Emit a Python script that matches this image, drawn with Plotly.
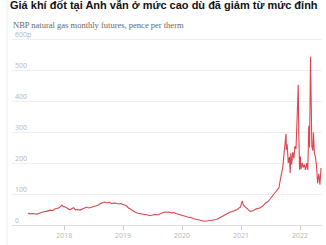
import plotly.graph_objects as go

dates = [
    "2017-05-22","2017-06-05","2017-06-19","2017-07-03","2017-07-17","2017-07-31","2017-08-14","2017-08-28",
    "2017-09-11","2017-09-25","2017-10-09","2017-10-23","2017-11-06","2017-11-20","2017-12-04","2017-12-18",
    "2017-12-25","2018-01-08","2018-01-22","2018-02-05","2018-02-19","2018-03-01","2018-03-12","2018-03-26",
    "2018-04-09","2018-04-23","2018-05-07","2018-05-21","2018-06-04","2018-06-18","2018-07-02","2018-07-16",
    "2018-07-30","2018-08-13","2018-08-27","2018-09-10","2018-09-24","2018-10-08","2018-10-22","2018-11-05",
    "2018-11-19","2018-12-03","2018-12-17","2019-01-07","2019-01-21","2019-02-04","2019-02-18","2019-03-04",
    "2019-03-18","2019-04-01","2019-04-15","2019-05-06","2019-05-20","2019-06-03","2019-06-17","2019-07-01",
    "2019-07-15","2019-08-05","2019-08-19","2019-09-02","2019-09-16","2019-09-30","2019-10-14","2019-10-28",
    "2019-11-11","2019-11-25","2019-12-16","2020-01-06","2020-01-20","2020-02-10","2020-02-24","2020-03-16",
    "2020-04-06","2020-04-27","2020-05-18","2020-06-01","2020-06-22","2020-07-13","2020-08-03","2020-08-24",
    "2020-09-14","2020-10-05","2020-10-26","2020-11-16","2020-12-07","2020-12-28","2021-01-08","2021-01-15",
    "2021-01-29","2021-02-12","2021-02-26","2021-03-15","2021-04-05","2021-04-26","2021-05-17","2021-06-01",
    "2021-06-15","2021-06-28","2021-07-12","2021-07-26","2021-08-09","2021-08-23","2021-09-01","2021-09-10",
    "2021-09-17","2021-09-24","2021-10-01","2021-10-06","2021-10-08","2021-10-13","2021-10-20","2021-10-27",
    "2021-11-01","2021-11-05","2021-11-10","2021-11-17","2021-11-24","2021-11-30","2021-12-07","2021-12-14",
    "2021-12-21","2021-12-24","2021-12-29","2022-01-03","2022-01-07","2022-01-14","2022-01-21","2022-01-28",
    "2022-02-04","2022-02-11","2022-02-18","2022-02-24","2022-03-01","2022-03-07","2022-03-10","2022-03-15",
    "2022-03-21","2022-03-25","2022-03-31","2022-04-06","2022-04-13","2022-04-20","2022-04-27","2022-05-04",
    "2022-05-11",
]
prices = [
    38,36,37,36,35,38,41,43,
    44,47,48,47,52,53,57,64,
    60,58,52,49,53,56,49,50,
    48,52,55,58,55,57,58,60,
    64,69,71,74,72,73,69,71,
    70,68,69,66,62,55,50,46,
    41,38,37,35,33,32,30,32,
    34,33,36,37,42,41,42,39,
    40,37,33,30,28,25,24,20,
    17,15,12,13,14,15,18,24,
    30,36,42,45,50,58,78,64,
    57,48,44,46,52,55,62,71,
    75,83,92,100,112,120,146,175,
    190,230,260,294,243,260,200,220,
    168,232,195,235,215,254,245,330,
    452,300,178,221,180,200,185,195,
    178,200,178,320,250,543,300,254,
    240,298,230,221,190,135,165,130,
    184,
]

ytick_vals = [0, 100, 200, 300, 400, 500, 600]
ytick_text = ["0", "100", "200", "300", "400", "500", "600p"]
xtick_vals = ["2018-01-01", "2019-01-01", "2020-01-01", "2021-01-01", "2022-01-01"]
xtick_text = ["2018", "2019", "2020", "2021", "2022"]

title = "Giá khí đốt tại Anh vẫn ở mức cao dù đã giảm từ mức đỉnh"
subtitle = "NBP natural gas monthly futures, pence per therm"

fig = go.Figure()
fig.add_trace(go.Scatter(x=dates, y=prices, mode="lines",
                         line=dict(color="#dc4651", width=1.1), hoverinfo="skip"))

# plot area: y=0 at 225px, y=600 at 39px -> 186px per 600 units; top margin 24 -> range top 648.4
fig.update_layout(
    width=326, height=245,
    margin=dict(l=12, r=4, t=24, b=20),
    paper_bgcolor="white", plot_bgcolor="white",
    showlegend=False,
    xaxis=dict(range=["2017-02-12", "2022-05-17"], tickvals=xtick_vals, ticktext=xtick_text,
               showgrid=False, zeroline=False, showline=True, linecolor="#dcdcdc", linewidth=1,
               ticks="outside", ticklen=4, tickcolor="#cccccc",
               tickfont=dict(family="Open Sans", size=7, color="#b5b5b5")),
    yaxis=dict(range=[0, 648.4], tickvals=ytick_vals, ticktext=ytick_text,
               showgrid=True, gridcolor="#efefef", gridwidth=1, zeroline=False,
               ticklabelposition="inside top", ticks="",
               tickfont=dict(family="Open Sans", size=7, color="#b5b5b5")),
    annotations=[
        dict(text="<b>" + title + "</b>", xref="paper", yref="paper", x=-0.012, y=1.092,
             xanchor="left", yanchor="middle", showarrow=False,
             font=dict(family="Liberation Sans", size=11, color="#121212")),
        dict(text=subtitle, xref="paper", yref="paper", x=0, y=0.996,
             xanchor="left", yanchor="middle", showarrow=False, xshift=-1,
             font=dict(family="Liberation Serif", size=8.5, color="#666666")),
    ],
    shapes=[dict(type="line", xref="paper", yref="paper", x0=-0.016, x1=-0.016, y0=-0.2, y1=1.25,
                 line=dict(color="#eeeeee", width=1))],
)

fig.write_html("out.html")
